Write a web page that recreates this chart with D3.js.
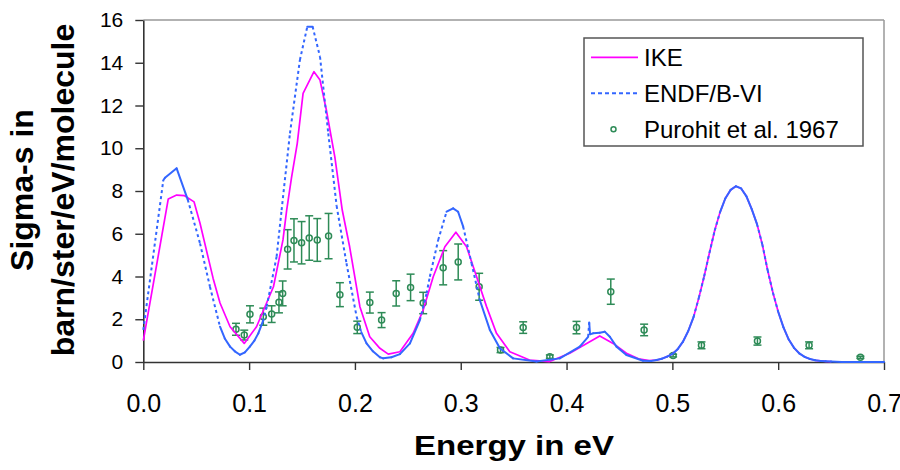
<!DOCTYPE html>
<html><head><meta charset="utf-8">
<script src="https://cdn.jsdelivr.net/npm/d3@7"></script>
<style>
html,body{margin:0;padding:0;background:#fff;}
svg{display:block;font-family:"Liberation Sans",Arial,sans-serif;}
</style></head>
<body>
<svg id="chart" width="900" height="470"></svg>
<script>
// ---- data ----
const xTicks = [0.0, 0.1, 0.2, 0.3, 0.4, 0.5, 0.6, 0.7];
const yTicks = [0, 2, 4, 6, 8, 10, 12, 14, 16];

// shared peak near 0.56 eV (both evaluations coincide)
const peakE = [0.485,0.490,0.495,0.500,0.505,0.510,0.515,0.520,0.525,0.530,0.535,0.540,0.545,0.550,0.555,0.560,0.565,0.570,0.575,0.580,0.585,0.590,0.595,0.600,0.605,0.610,0.615,0.620,0.625,0.630,0.635,0.640,0.645,0.650];
const peakS = [0.09,0.15,0.25,0.38,0.6,0.95,1.45,2.1,3.0,4.0,5.1,6.15,7.0,7.65,8.05,8.22,8.12,7.75,7.15,6.45,5.5,4.3,3.25,2.35,1.62,1.05,0.66,0.4,0.24,0.14,0.08,0.05,0.03,0.02];

const ikeE = [0,0.0236,0.0315,0.039,0.048,0.0536,0.066,0.0725,0.082,0.0954,0.107,0.123,0.132,0.1355,0.140,0.1455,0.151,0.1613,0.167,0.173,0.181,0.188,0.195,0.2047,0.214,0.2236,0.2315,0.2425,0.255,0.2645,0.274,0.285,0.2954,0.3055,0.315,0.3244,0.3338,0.3464,0.365,0.384,0.403,0.419,0.4314,0.444,0.4566,0.468,0.478];
const ikeS = [1.0,7.63,7.81,7.78,7.49,6.49,3.91,2.76,1.65,0.87,1.65,3.52,5.71,7.11,8.6,10.23,12.57,13.58,13.19,11.79,9.6,7.11,5.39,2.59,1.18,0.64,0.37,0.48,1.34,2.43,3.99,5.39,6.07,5.39,3.99,2.59,1.34,0.48,0.09,0.02,0.41,0.87,1.22,0.87,0.41,0.15,0.07];

const endfE = [0,0.0189,0.0205,0.0315,0.042,0.0536,0.063,0.0725,0.077,0.082,0.0865,0.0913,0.096,0.1007,0.105,0.1087,0.113,0.1166,0.126,0.1307,0.1386,0.148,0.155,0.160,0.167,0.1748,0.1827,0.192,0.2016,0.206,0.211,0.217,0.2236,0.2267,0.2345,0.2425,0.252,0.2614,0.2677,0.2708,0.2787,0.2866,0.2928,0.2975,0.3023,0.3102,0.318,0.3275,0.337,0.3495,0.3716,0.3936,0.4125,0.4204,0.4214,0.4222,0.4251,0.4314,0.4361,0.4409,0.4472,0.4566,0.4723,0.480];
const endfS = [1.5,8.5,8.62,9.06,7.6,5.55,3.52,1.65,1.1,0.72,0.5,0.34,0.45,0.72,1.0,1.34,1.9,2.59,4.93,7.11,10.7,14.13,15.69,15.69,14.28,10.7,7.3,4.62,2.12,1.4,0.87,0.5,0.22,0.17,0.22,0.37,0.87,1.96,3.21,3.99,5.71,7.03,7.19,7.03,6.33,4.62,2.9,1.5,0.64,0.17,0.02,0.17,0.72,1.18,1.85,1.3,1.34,1.37,1.42,1.18,0.72,0.33,0.06,0.05];
const endfTailE = [0.66, 0.70];
const endfTailS = [0.0, 0.0];

const purohitE = [0.0876,0.0954,0.1008,0.1134,0.1213,0.1282,0.1317,0.1364,0.1424,0.1496,0.1568,0.1644,0.1751,0.1858,0.2022,0.2141,0.2252,0.2390,0.2526,0.2645,0.2834,0.2976,0.3174,0.3376,0.3590,0.3842,0.4094,0.4418,0.4733,0.5007,0.5275,0.5804,0.6292,0.6777];
const purohitS = [1.53,1.26,2.23,2.12,2.24,2.79,3.21,5.27,5.69,5.58,5.80,5.71,5.89,3.15,1.62,2.78,1.96,3.21,3.49,2.76,4.41,4.68,3.52,0.56,1.61,0.25,1.61,3.29,1.50,0.30,0.78,0.98,0.78,0.22];
const purohitErr = [0.28,0.23,0.40,0.40,0.39,0.49,0.58,0.92,1.01,0.99,1.04,1.00,1.06,0.56,0.29,0.49,0.35,0.59,0.62,0.50,0.80,0.84,0.63,0.12,0.27,0.08,0.29,0.59,0.27,0.06,0.16,0.19,0.16,0.05];

const legendLabels = ["IKE", "ENDF/B-VI", "Purohit et al. 1967"];
const xTitle = "Energy in eV";
const yTitle = ["Sigma-s in", "barn/ster/eV/molecule"];

// ---- build ----
const C_IKE = "#ff00ff", C_ENDF = "#3366ff", C_PUR = "#2e8b57";
const svg = d3.select("#chart");
const L = 143.3, R = 884, T = 20, B = 362;
const x = d3.scaleLinear().domain([0, 0.7]).range([L, R]);
const y = d3.scaleLinear().domain([0, 16]).range([B, T]);

const ike = ikeE.map((e,i)=>[e, ikeS[i]]).concat(peakE.map((e,i)=>[e, peakS[i]]));
const endf = endfE.map((e,i)=>[e, endfS[i]]).concat(peakE.map((e,i)=>[e, peakS[i]])).concat(endfTailE.map((e,i)=>[e, endfTailS[i]]));

// frame
svg.append("line").attr("x1",L).attr("x2",R).attr("y1",T).attr("y2",T).attr("stroke","#999").attr("stroke-width",1.5);
svg.append("line").attr("x1",R).attr("x2",R).attr("y1",T).attr("y2",B).attr("stroke","#999").attr("stroke-width",1.5);

const gx = svg.append("g").attr("transform",`translate(0,${B})`)
  .call(d3.axisBottom(x).tickValues(xTicks).tickFormat(d3.format(".1f")).tickSizeInner(8).tickSizeOuter(0).tickPadding(24));
const gy = svg.append("g").attr("transform",`translate(${L},0)`)
  .call(d3.axisLeft(y).tickValues(yTicks).tickFormat(d3.format("d")).tickSizeInner(8).tickSizeOuter(0).tickPadding(12));
[gx, gy].forEach(g=>{
  g.select(".domain").attr("stroke","#333").attr("stroke-width",1.6);
  g.selectAll(".tick line").attr("stroke","#333").attr("stroke-width",1.4);
  g.selectAll(".tick text").attr("fill","#000").attr("font-family","'Liberation Sans',Arial,sans-serif");
});
gx.selectAll(".tick text").attr("font-size",25);
gy.selectAll(".tick text").attr("font-size",21);

// purohit error bars + markers
const pg = svg.append("g");
purohitE.forEach((e,i)=>{
  const cx = x(e), yt = y(purohitS[i]+purohitErr[i]), yb = y(purohitS[i]-purohitErr[i]);
  pg.append("line").attr("x1",cx).attr("x2",cx).attr("y1",yt).attr("y2",yb).attr("stroke",C_PUR).attr("stroke-width",1.5);
  pg.append("line").attr("x1",cx-4).attr("x2",cx+4).attr("y1",yt).attr("y2",yt).attr("stroke",C_PUR).attr("stroke-width",1.5);
  pg.append("line").attr("x1",cx-4).attr("x2",cx+4).attr("y1",yb).attr("y2",yb).attr("stroke",C_PUR).attr("stroke-width",1.5);
});
pg.selectAll("circle").data(purohitE.map((e,i)=>[e,purohitS[i]])).join("circle")
  .attr("cx",d=>x(d[0])).attr("cy",d=>y(d[1])).attr("r",3)
  .attr("fill","none").attr("stroke",C_PUR).attr("stroke-width",1.5);

// IKE line
const line = d3.line().x(d=>x(d[0])).y(d=>y(d[1]));
svg.append("path").datum(ike).attr("d",line).attr("fill","none").attr("stroke",C_IKE).attr("stroke-width",1.7).attr("stroke-linejoin","round");

// ENDF line: each segment drawn on its own; steep long segments show the round-dot pattern
const eg = svg.append("g");
for (let i=0;i<endf.length-1;i++){
  const a = endf[i], b = endf[i+1];
  const dx = Math.abs(x(b[0])-x(a[0])), dy = Math.abs(y(b[1])-y(a[1]));
  const steep = dy > 3.3*dx && dy > 12;
  eg.append("path").datum([a,b]).attr("d",line).attr("fill","none")
    .attr("stroke",C_ENDF).attr("stroke-width",2).attr("stroke-linecap", steep?"butt":"round")
    .attr("stroke-dasharray", steep ? "3,3" : null);
}

// legend
const lg = svg.append("g");
lg.append("rect").attr("x",584).attr("y",38).attr("width",279).attr("height",108)
  .attr("fill","#fff").attr("stroke","#555").attr("stroke-width",1.5);
const ly = [57.3, 93.3, 129.3];
lg.append("line").attr("x1",591).attr("x2",638).attr("y1",ly[0]).attr("y2",ly[0]).attr("stroke",C_IKE).attr("stroke-width",1.7);
lg.append("line").attr("x1",591).attr("x2",638).attr("y1",ly[1]).attr("y2",ly[1]).attr("stroke",C_ENDF).attr("stroke-width",2).attr("stroke-dasharray","4,3");
lg.append("circle").attr("cx",613.5).attr("cy",ly[2]).attr("r",2.5).attr("fill","none").attr("stroke",C_PUR).attr("stroke-width",1.5);
lg.selectAll("text.lab").data(legendLabels).join("text").attr("class","lab")
  .attr("x",644).attr("y",(d,i)=>ly[i]+8.7).attr("font-size",24).attr("fill","#000").text(d=>d);

// axis titles
svg.append("text").attr("x",514).attr("y",455).attr("text-anchor","middle")
  .attr("font-size",28).attr("font-weight","bold").attr("textLength",200).attr("lengthAdjust","spacingAndGlyphs").text(xTitle);
const yt = svg.append("text").attr("transform","translate(0,190) rotate(-90)").attr("text-anchor","middle")
  .attr("font-size",32).attr("font-weight","bold");
yt.append("tspan").attr("x",0).attr("y",33).text(yTitle[0]);
yt.append("tspan").attr("x",0).attr("y",74).text(yTitle[1]);
</script>
</body></html>
